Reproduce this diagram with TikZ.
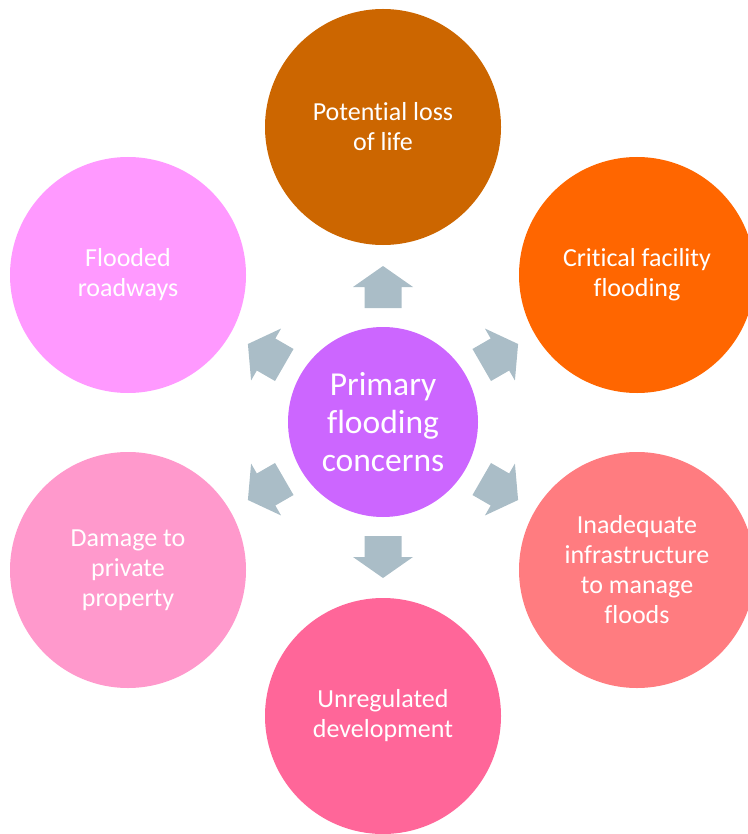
\documentclass[tikz,border=0pt]{standalone}
\usepackage{fontspec}
\setmainfont{Carlito}[Ligatures=NoCommon]
\definecolor{hubpurple}{HTML}{CC66FF}
\definecolor{lifebrown}{HTML}{CC6600}
\definecolor{facorange}{HTML}{FF6600}
\definecolor{infrared}{HTML}{FF7C80}
\definecolor{devpink}{HTML}{FF6699}
\definecolor{proppink}{HTML}{FF99CC}
\definecolor{roadpink}{HTML}{FF99FF}
\definecolor{arrowgrey}{HTML}{AABDC7}
\begin{document}
\begin{tikzpicture}[x=1pt,y=-1pt,inner sep=0pt,outer sep=0pt,
concern/.style={circle,minimum size=236pt,text=white,align=center,font=\fontsize{26}{30}\selectfont},
hub/.style={circle,minimum size=190pt,fill=hubpurple,text=white,align=center,font=\fontsize{33.5}{38}\selectfont},
blockarrow/.style={fill=arrowgrey}]
\useasboundingbox (0,0) rectangle (747,834);
\draw (383,422) node[hub] (hub) {Primary\\flooding\\concerns};

\draw (383,127) node[concern,fill=lifebrown] (life) {Potential loss\\of life};
\draw (637,275) node[concern,fill=facorange] (facility) {Critical facility\\flooding};
\draw (637,570) node[concern,fill=infrared] (infra) {Inadequate\\infrastructure\\to manage\\floods};
\draw (383,716) node[concern,fill=devpink] (devel) {Unregulated\\development};
\draw (128,570) node[concern,fill=proppink] (property) {Damage to\\private\\property};
\draw (128,275) node[concern,fill=roadpink] (roads) {Flooded\\roadways};

% block arrows pointing out from the hub
\foreach \a in {90,30,-30,-90,-150,150}
  \fill[blockarrow,shift={(hub.center)},rotate=\a]
    (114pt,-18.5pt) -- (135pt,-18.5pt) -- (135pt,-30pt) -- (156pt,0pt)
    -- (135pt,30pt) -- (135pt,18.5pt) -- (114pt,18.5pt) -- cycle;
\end{tikzpicture}
\end{document}
